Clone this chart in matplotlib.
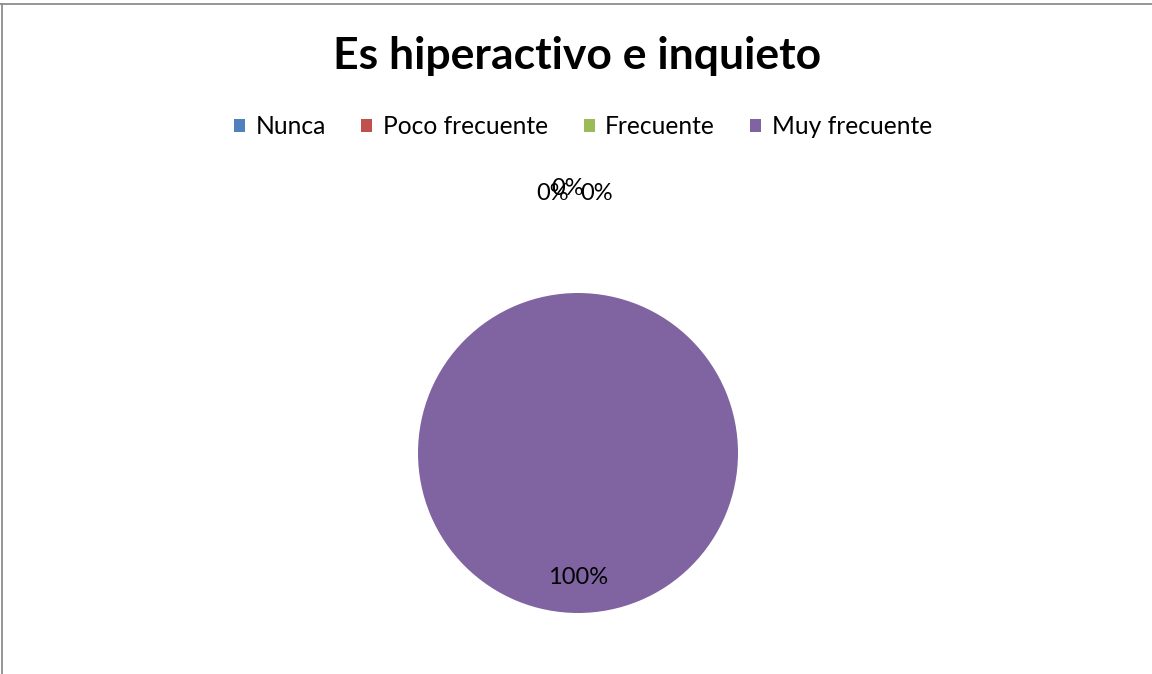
import matplotlib
matplotlib.use("Agg")
import matplotlib.pyplot as plt
from matplotlib.patches import Patch
from matplotlib.lines import Line2D

categories = ["Nunca", "Poco frecuente", "Frecuente", "Muy frecuente"]
values = [0, 0, 0, 100]
colors = ["#4F81BD", "#C0504D", "#9BBB59", "#8064A2"]
title = "Es hiperactivo e inquieto"

plt.rcParams['font.family'] = ['Lato', 'DejaVu Sans']

W, H = 1152, 674
fig = plt.figure(figsize=(W / 100, H / 100), dpi=100)

# pie axes: center (578,453), radius 160 px
cx, cy, r = 578, 453, 160
ax = fig.add_axes([(cx - r) / W, (H - cy - r) / H, 2 * r / W, 2 * r / H])
wedges, texts, autotexts = ax.pie(values, colors=colors, startangle=90, counterclock=False,
                                  autopct='%.0f%%', pctdistance=0.78, radius=1,
                                  wedgeprops=dict(linewidth=0),
                                  textprops=dict(fontsize=17, color='black'))
ax.set_xlim(-1, 1)
ax.set_ylim(-1, 1)
ax.set_aspect('equal')

# zero-value labels sit above the pie, slightly spread apart (as in the source)
offsets = [(-0.16, 1.625), (-0.065, 1.655), (0.115, 1.625)]
zi = 0
for v, t in zip(values, autotexts):
    if v == 0:
        t.set_position(offsets[zi])
        zi += 1

fig.text(577 / W, 1 - 56 / H, title, ha='center', va='center', fontsize=32, fontweight='bold')

handles = [Patch(facecolor=c, edgecolor='none') for c in colors]
fig.legend(handles, categories, loc='center', bbox_to_anchor=(583 / W, 1 - 127 / H), ncol=4,
           frameon=False, fontsize=17.7, handlelength=0.45, handleheight=0.45,
           handletextpad=0.42, columnspacing=1.45)

# chart frame (top and left edges visible)
fig.add_artist(Line2D([0, 1], [1 - 4 / H, 1 - 4 / H], transform=fig.transFigure, color='#8c8c8c', lw=1.3))
fig.add_artist(Line2D([2 / W, 2 / W], [0, 1 - 4 / H], transform=fig.transFigure, color='#8c8c8c', lw=1.3))

fig.savefig("out.png", dpi=100, facecolor='white')
